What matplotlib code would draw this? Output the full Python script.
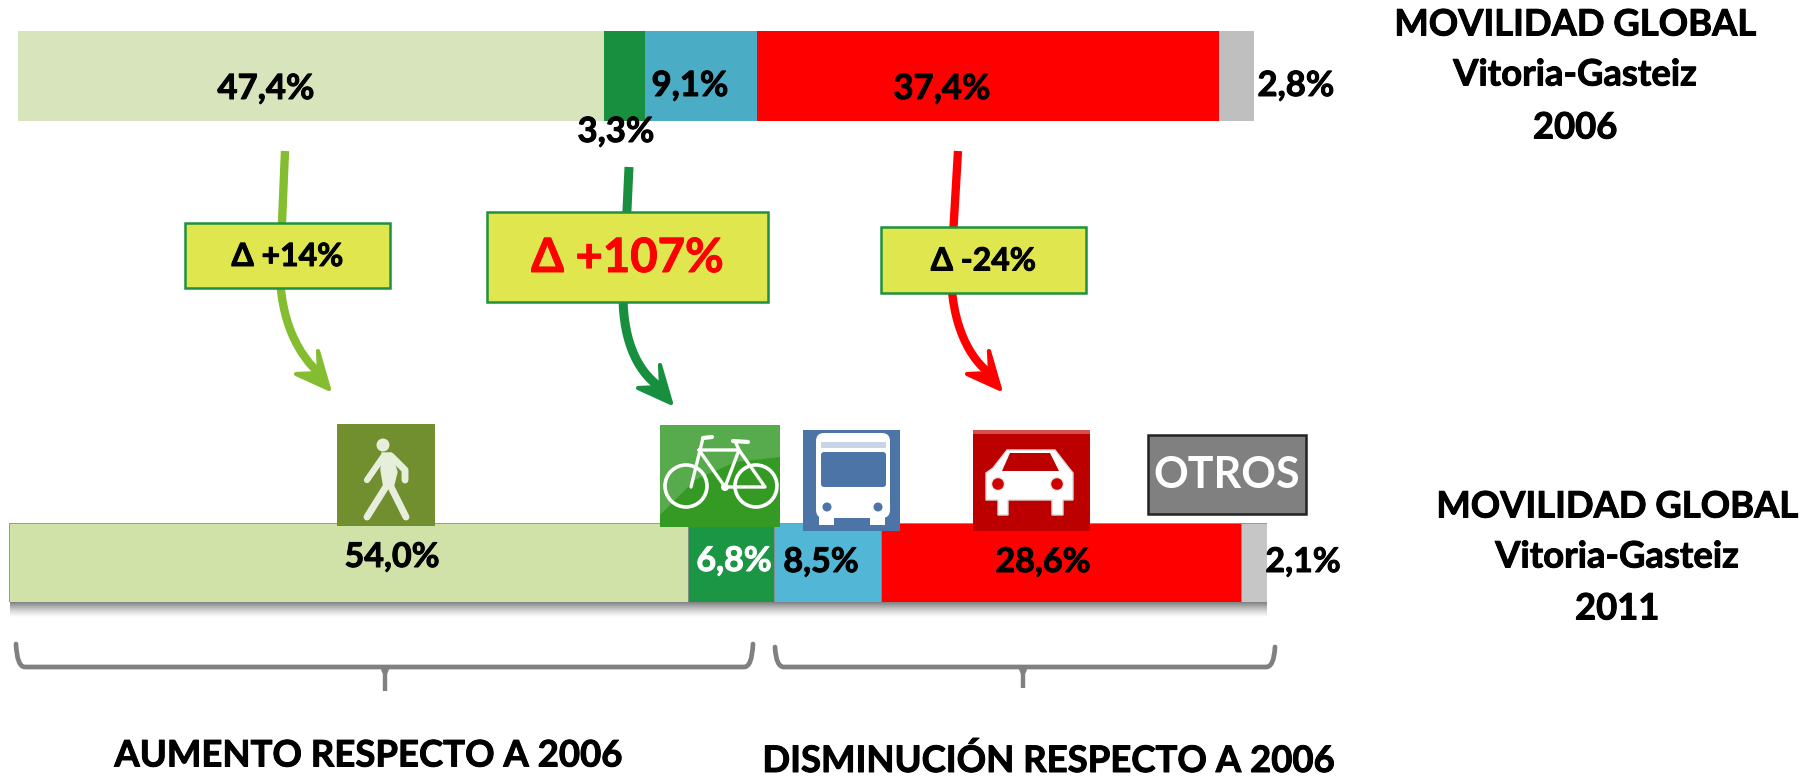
import numpy as np
import matplotlib
matplotlib.use("Agg")
import matplotlib.pyplot as plt
import matplotlib.patheffects as pe
from matplotlib.patches import Rectangle, Polygon, Circle, PathPatch, FancyBboxPatch
from matplotlib.path import Path

plt.rcParams['font.family'] = ['Lato', 'DejaVu Sans']

modes = ['Pie', 'Bici', 'Bus', 'Coche', 'Otros']
values_2006 = [47.4, 3.3, 9.1, 37.4, 2.8]
values_2011 = [54.0, 6.8, 8.5, 28.6, 2.1]
colors_2006 = ['#D8E4BC', '#178F3F', '#4BACC6', '#FF0000', '#BFBFBF']
colors_2011 = ['#D0E2A7', '#1B9645', '#52B6D6', '#FF0000', '#C6C6C6']
label_colors_2011 = ['black', 'white', 'black', 'black', 'black']
label_xy_2006 = [(266, 89), (616, 132), (690, 86), (942, 89), (1296, 86)]
label_xy_2011 = [(392, 557), (734, 561), (821, 562), (1043, 562), (1303, 562)]
deltas = ['Δ +14%', 'Δ +107%', 'Δ -24%']

W, H = 1806, 776
fig = plt.figure(figsize=(W / 100, H / 100), dpi=100, facecolor='white')


def heavy(col):
    return [pe.withStroke(linewidth=0.7, foreground=col)]


def bar_axes(x0, x1, y0, y1):
    ax = fig.add_axes([x0 / W, 1 - y1 / H, (x1 - x0) / W, (y1 - y0) / H])
    ax.set_xlim(0, 100)
    ax.set_ylim(-0.5, 0.5)
    ax.axis('off')
    return ax


def stacked(ax, vals, cols, edge=None):
    left = 0
    for v, c in zip(vals, cols):
        ax.barh(0, v, left=left, height=1, color=c, edgecolor=edge, linewidth=0.6 if edge else 0)
        left += v


# overlay in pixel coordinates
ov = fig.add_axes([0, 0, 1, 1], zorder=5)
ov.patch.set_alpha(0)

# bottom bar shadow: a smooth fade below the bar
grad = np.zeros((40, 1, 4))
grad[..., :3] = 0.25
grad[:, 0, 3] = np.linspace(0.75, 0, 40) ** 1.4
ov.imshow(grad, extent=(10, 1267, 618, 602), aspect='auto', zorder=0.5, interpolation='bilinear')
ov.set_xlim(0, W)
ov.set_ylim(H, 0)
ov.axis('off')

ax06 = bar_axes(18, 1254, 31, 121)
stacked(ax06, values_2006, colors_2006)
ax11 = bar_axes(9, 1267, 523, 602)
stacked(ax11, values_2011, colors_2011, edge='#8a8a8a')
ax11.set_zorder(6)

ov2 = fig.add_axes([0, 0, 1, 1], zorder=7)
ov2.set_xlim(0, W)
ov2.set_ylim(H, 0)
ov2.axis('off')
ov2.patch.set_alpha(0)


def arrow(ax, pts, col, lw, barbs):
    p = pts
    codes = [Path.MOVETO, Path.LINETO, Path.CURVE4, Path.CURVE4, Path.CURVE4]
    shaft_end = (p[4][0] - 8, p[4][1] - 14)
    ax.add_patch(PathPatch(Path([p[0], p[1], p[2], p[3], shaft_end], codes), fc='none', ec=col, lw=lw,
                           capstyle='butt', zorder=1))
    tx, ty = p[4]
    b1, notch, b2 = barbs
    ax.add_patch(Polygon([(tx, ty), (tx + b1[0], ty + b1[1]), (tx + notch[0], ty + notch[1]),
                          (tx + b2[0], ty + b2[1])], closed=True, fc=col, ec=col, lw=3, joinstyle='round', zorder=1))


barbs = ((-11, -38), (-10, -16), (-33, -15))
arrow(ov, [(285, 151), (280, 270), (280, 320), (298, 355), (329, 389)], '#84BD30', 6, barbs)
arrow(ov, [(629, 167), (623, 295), (623, 345), (640, 375), (671, 403)], '#178F3F', 6.5, barbs)
arrow(ov, [(958, 151), (951, 270), (951, 325), (970, 360), (1000, 389)], '#FF0000', 6, barbs)
ov.add_patch(Circle((646, 298), 3, color='black', zorder=1))

# delta boxes
boxes = [(185, 223, 205, 65), (487, 212, 281, 90), (881, 227, 205, 66)]
delta_sizes = [23, 34, 23]
delta_cols = ['black', '#FF0000', 'black']
for (x, y, w, h), s, t, c in zip(boxes, delta_sizes, deltas, delta_cols):
    ov.add_patch(Rectangle((x, y), w, h, fc='#DFE64E', ec='#1F9140', lw=1.8, zorder=3))
    ov.text(x + w / 2, y + h / 2 + 1, t, ha='center', va='center', fontsize=s, fontweight='bold', color=c, zorder=4,
            path_effects=heavy(c))

# value labels
for v, (x, y) in zip(values_2006, label_xy_2006):
    ov2.text(x, y, f'{v:.1f}%'.replace('.', ','), ha='center', va='center', fontsize=25, fontweight='bold', color='black',
             path_effects=heavy('black'))
for v, (x, y), c in zip(values_2011, label_xy_2011, label_colors_2011):
    ov2.text(x, y, f'{v:.1f}%'.replace('.', ','), ha='center', va='center', fontsize=24.5, fontweight='bold', color=c, zorder=20,
             path_effects=heavy(c))

# titles
for (cx, ys, yr) in [(1575, (25, 75, 128), '2006'), (1617, (507, 557, 609), '2011')]:
    for t, y in zip(['MOVILIDAD GLOBAL', 'Vitoria-Gasteiz', yr], ys):
        ov2.text(cx, y, t, ha='center', va='center', fontsize=26.2, fontweight='bold', path_effects=heavy('black'))

ov2.text(368, 756, 'AUMENTO RESPECTO A 2006', ha='center', va='center', fontsize=26.3, fontweight='bold',
         path_effects=heavy('black'))
ov2.text(1048, 761, 'DISMINUCIÓN RESPECTO A 2006', ha='center', va='center', fontsize=26.3, fontweight='bold',
         path_effects=heavy('black'))


# braces
def brace(x0, x1, y0, y1, ytip, xm):
    v = [(x0, y0), (x0 + 1, y1), (x0 + 9, y1), (x1 - 9, y1), (x1 - 1, y1), (x1, y0)]
    c = [Path.MOVETO, Path.CURVE3, Path.CURVE3, Path.LINETO, Path.CURVE3, Path.CURVE3]
    ov2.add_patch(PathPatch(Path(v, c), fc='none', ec='#808080', lw=3.4, capstyle='round'))
    ov2.add_patch(Polygon([(xm - 5, y1), (xm + 5, y1), (xm + 2.2, y1 + 7), (xm + 2.2, ytip), (xm - 2.2, ytip), (xm - 2.2, y1 + 7)],
                          fc='#808080', ec='none'))


brace(16, 753, 644, 667, 691, 385)
brace(775, 1275, 647, 667, 688, 1023)


# icons
def line(pts, lw, col='white', **kw):
    xs, ys = zip(*pts)
    ov2.plot(xs, ys, color=col, lw=lw, solid_capstyle='round', solid_joinstyle='round', zorder=11, **kw)


# walker
ov2.add_patch(Rectangle((337, 424), 98, 102, fc='#718F2E', ec='none', zorder=10))
w = '#E8EEDC'
ov2.add_patch(Circle((383, 445), 6.5, fc=w, ec='none', zorder=11))
ov2.add_patch(Polygon([(382, 453), (391, 453), (397, 472), (393, 488), (384, 488), (381, 470)], fc=w, ec=w, zorder=11))
line([(383, 457), (367, 480)], 4.5, w)
line([(391, 456), (405, 470), (405, 480)], 5, w)
line([(387, 485), (367, 517)], 5, w)
line([(390, 485), (406, 517)], 5, w)

# bike
ov2.add_patch(Rectangle((660, 425), 120, 102, fc='#359A23', ec='none', zorder=10))
ov2.add_patch(Polygon([(660, 425), (780, 425), (780, 457), (735, 462), (695, 480), (660, 515)], fc='#58AB4C', ec='none', zorder=10.5))
for cx in (686, 756):
    ov2.add_patch(Circle((cx, 486), 21, fc='none', ec='white', lw=2.6, zorder=11))
line([(703, 438), (691, 487)], 2.4)
line([(699, 450), (725, 487), (739, 450), (699, 450)], 2.4)
line([(725, 487), (765, 487), (739, 450)], 2.4)
line([(703, 438), (712, 437)], 3)
line([(739, 450), (735, 441)], 2.4)
line([(733, 441), (748, 442)], 3)
ov2.add_patch(Circle((725, 487), 4, fc='white', ec='none', zorder=11))

# bus
ov2.add_patch(Rectangle((803, 430), 97, 101, fc='#4C74A6', ec='none', zorder=10))
ov2.add_patch(FancyBboxPatch((816, 433), 74, 85, boxstyle='round,pad=0,rounding_size=8', fc='white', ec='none', zorder=11))
ov2.add_patch(Rectangle((821, 442), 65, 6, fc='#C9D5E4', ec='none', zorder=12))
ov2.add_patch(FancyBboxPatch((821, 452), 65, 35, boxstyle='round,pad=0,rounding_size=3', fc='#4C74A6', ec='none', zorder=12))
for cx in (827, 878):
    ov2.add_patch(Circle((cx, 507), 4.5, fc='#4C74A6', ec='none', zorder=12))
    ov2.add_patch(Rectangle((cx - 8, 515), 15, 10, fc='white', ec='none', zorder=11))

# car
ov2.add_patch(Rectangle((973, 430), 117, 101, fc='#BC0000', ec='none', zorder=10))
ov2.add_patch(Rectangle((973, 430), 117, 4, fc='#D65050', ec='none', zorder=10.5))
ov2.add_patch(Polygon([(986, 473), (993, 468), (1007, 450), (1055, 450), (1069, 468), (1073, 473), (1073, 500), (1063, 500),
                       (1063, 515), (1052, 515), (1052, 500), (1008, 500), (1008, 515), (998, 515), (998, 500), (986, 500)],
                      fc='white', ec='#D8D8D8', lw=1, zorder=11))
ov2.add_patch(Polygon([(1002, 471), (1010, 453), (1050, 453), (1059, 471)], fc='#BC0000', ec='none', zorder=12))
for cx in (998, 1057):
    ov2.add_patch(Circle((cx, 484), 6.5, fc='#D00000', ec='#E8E8E8', lw=1, zorder=12))

# otros
ov2.add_patch(Rectangle((1148, 435), 158, 79, fc='#808080', ec='#222222', lw=1.8, zorder=10))
ov2.text(1227, 475, 'OTROS', ha='center', va='center', fontsize=31, fontweight='bold', color='white', zorder=11)

fig.savefig('out.png', dpi=100)
